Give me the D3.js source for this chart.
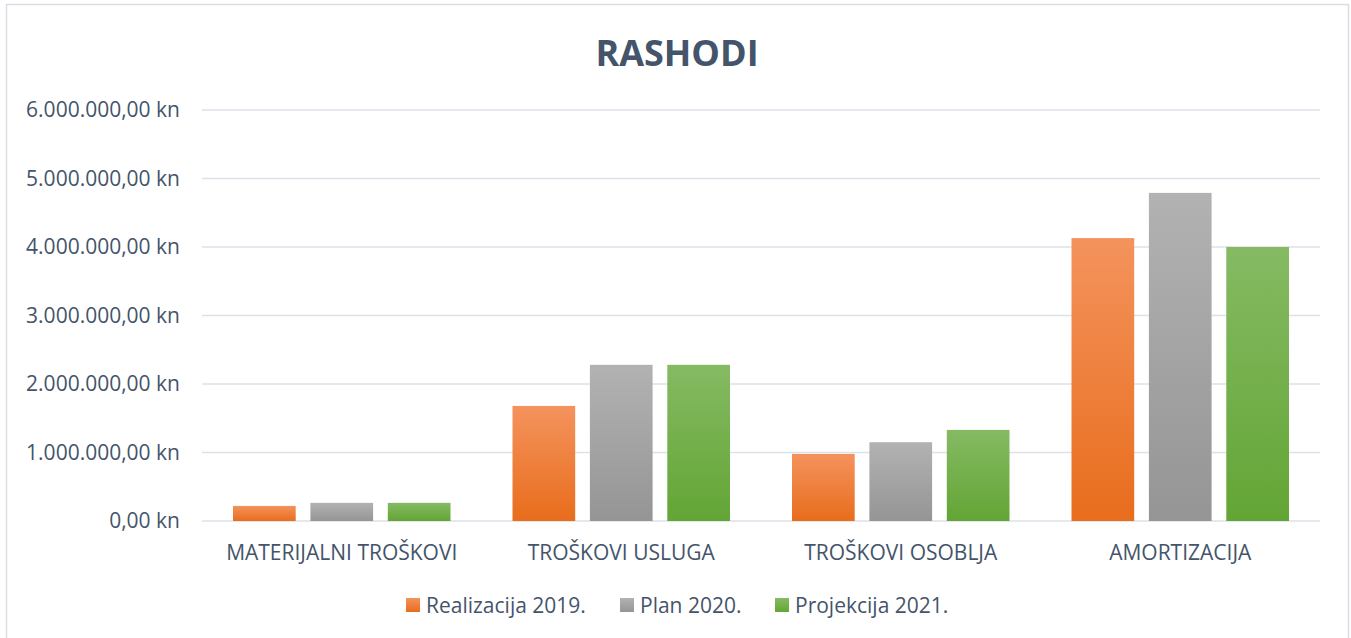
<!DOCTYPE html>
<html>
<head>
<meta charset="utf-8">
<script src="https://cdn.jsdelivr.net/npm/d3@7"></script>
<style>
  body { margin: 0; background: #fff; }
  svg text { font-family: 'Open Sans', 'Noto Sans', sans-serif; }
</style>
</head>
<body>
<div id="chart"></div>
<script>
const categories = ['MATERIJALNI TROŠKOVI', 'TROŠKOVI USLUGA', 'TROŠKOVI OSOBLJA', 'AMORTIZACIJA']
const seriesNames = ['Realizacija 2019.', 'Plan 2020.', 'Projekcija 2021.']
const realizacija2019 = [220000, 1680000, 980000, 4130000]
const plan2020 = [265000, 2280000, 1150000, 4790000]
const projekcija2021 = [265000, 2280000, 1330000, 4000000]
const yTicks = [0, 1000000, 2000000, 3000000, 4000000, 5000000, 6000000]

const width = 1351
const height = 638
const margin = { top: 110, right: 31, bottom: 117, left: 202 }
const textColor = '#44546A'

const gradients = [
  ['#F4935D', '#E86D1C'],
  ['#B2B2B2', '#959595'],
  ['#85BA63', '#63A535']
]

const series = [realizacija2019, plan2020, projekcija2021]

const svg = d3.select('#chart').append('svg')
  .attr('width', width)
  .attr('height', height)

const defs = svg.append('defs')
gradients.forEach((g, i) => {
  const lg = defs.append('linearGradient')
    .attr('id', 'grad' + i)
    .attr('x1', 0).attr('y1', 0).attr('x2', 0).attr('y2', 1)
  lg.append('stop').attr('offset', '0%').attr('stop-color', g[0])
  lg.append('stop').attr('offset', '100%').attr('stop-color', g[1])
})

// chart border
svg.append('rect')
  .attr('x', 6.5).attr('y', 4.5)
  .attr('width', 1342).attr('height', 640)
  .attr('fill', 'none')
  .attr('stroke', '#D9DEE6')
  .attr('stroke-width', 1.5)

const innerW = width - margin.left - margin.right
const innerH = height - margin.top - margin.bottom

const g = svg.append('g').attr('transform', `translate(${margin.left},${margin.top})`)

const x0 = d3.scaleBand().domain(categories).range([0, innerW]).paddingInner(0).paddingOuter(0)
const x1 = d3.scaleBand().domain(d3.range(seriesNames.length))
  .range([31, x0.bandwidth() - 31]).paddingInner(0.19)
const y = d3.scaleLinear().domain([0, 6000000]).range([innerH, 0])

const fmt = v => {
  const s = d3.format(',.2f')(v)
  return s.replace(/,/g, '#').replace('.', ',').replace(/#/g, '.') + ' kn'
}

// gridlines
g.selectAll('.grid')
  .data(yTicks)
  .join('line')
  .attr('class', 'grid')
  .attr('x1', 0).attr('x2', innerW)
  .attr('y1', d => y(d)).attr('y2', d => y(d))
  .attr('stroke', '#DDE2EA')
  .attr('stroke-width', 1.5)

// y labels
g.selectAll('.ylab')
  .data(yTicks)
  .join('text')
  .attr('class', 'ylab')
  .attr('x', -22)
  .attr('y', d => y(d))
  .attr('dy', '0.35em')
  .attr('text-anchor', 'end')
  .attr('fill', textColor)
  .style('font-size', '21px')
  .text(fmt)

// bars
categories.forEach((c, ci) => {
  series.forEach((s, si) => {
    g.append('rect')
      .attr('x', x0(c) + x1(si))
      .attr('y', y(s[ci]))
      .attr('width', x1.bandwidth())
      .attr('height', innerH - y(s[ci]))
      .attr('fill', `url(#grad${si})`)
  })
})

// category labels
g.selectAll('.xlab')
  .data(categories)
  .join('text')
  .attr('class', 'xlab')
  .attr('x', d => x0(d) + x0.bandwidth() / 2)
  .attr('y', innerH + 39)
  .attr('text-anchor', 'middle')
  .attr('fill', textColor)
  .style('font-size', '21px')
  .text(d => d)

// title
svg.append('text')
  .attr('x', 677)
  .attr('y', 66)
  .attr('text-anchor', 'middle')
  .attr('fill', textColor)
  .style('font-size', '36px')
  .style('font-weight', 'bold')
  .text('RASHODI')

// legend
const legendX = [406, 620, 775]
const legend = svg.append('g')
seriesNames.forEach((n, i) => {
  legend.append('rect')
    .attr('x', legendX[i]).attr('y', 598)
    .attr('width', 14).attr('height', 14)
    .attr('fill', `url(#grad${i})`)
  legend.append('text')
    .attr('x', legendX[i] + 20).attr('y', 613)
    .attr('fill', textColor)
    .style('font-size', '21px')
    .text(n)
})
</script>
</body>
</html>
